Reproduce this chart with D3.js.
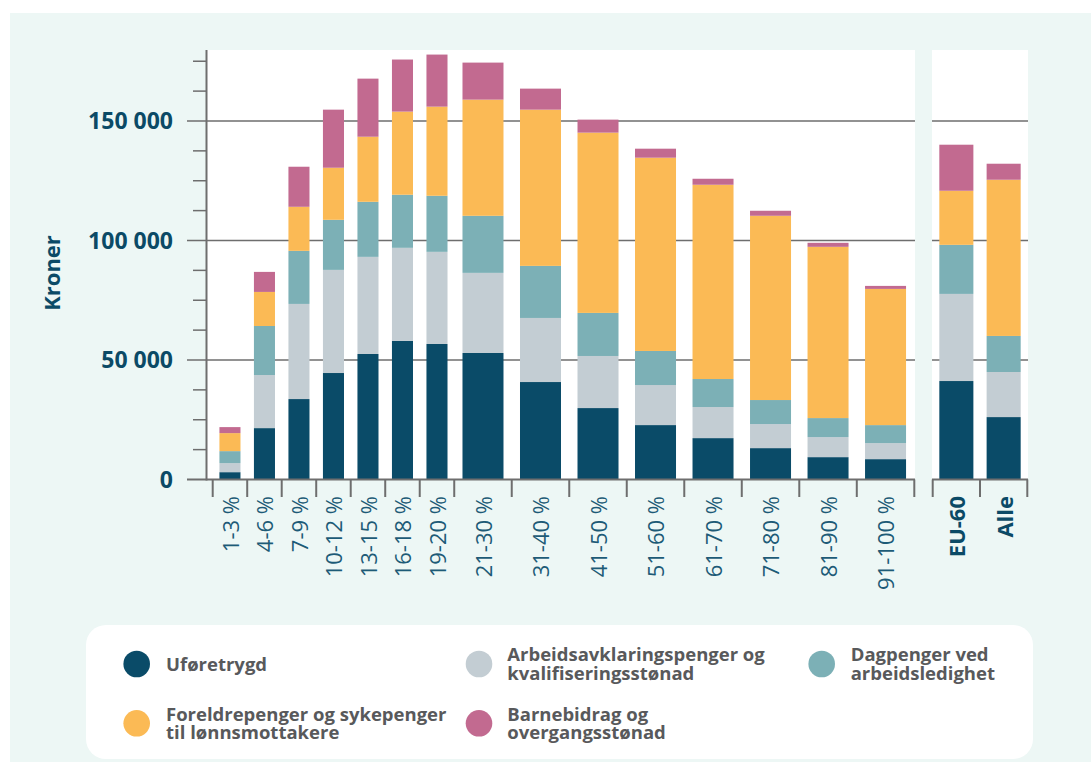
<!DOCTYPE html>
<html>
<head>
<meta charset="utf-8">
<script src="https://cdn.jsdelivr.net/npm/d3@7"></script>
<style>
  html, body { margin: 0; padding: 0; background: #ffffff; }
  svg { display: block; }
  text { font-family: "Open Sans", "Noto Sans", sans-serif; }
</style>
</head>
<body>
<svg id="chart" width="1091" height="762"></svg>
<script>
// ---------- DATA ----------
const categories = ["1-3 %", "4-6 %", "7-9 %", "10-12 %", "13-15 %", "16-18 %", "19-20 %",
  "21-30 %", "31-40 %", "41-50 %", "51-60 %", "61-70 %", "71-80 %", "81-90 %", "91-100 %",
  "EU-60", "Alle"];
const seriesNames = ["Uføretrygd", "Arbeidsavklaringspenger og kvalifiseringsstønad",
  "Dagpenger ved arbeidsledighet", "Foreldrepenger og sykepenger til lønnsmottakere",
  "Barnebidrag og overgangsstønad"];
const legendLabels = [
  ["Uføretrygd"],
  ["Arbeidsavklaringspenger og", "kvalifiseringsstønad"],
  ["Dagpenger ved", "arbeidsledighet"],
  ["Foreldrepenger og sykepenger", "til lønnsmottakere"],
  ["Barnebidrag og", "overgangsstønad"]
];
const uforetrygd   = [3070, 21500, 33660, 44550, 52510, 57960, 56700, 52930, 40780, 29890, 22770, 17320, 13130, 9360, 8520, 41200, 26120];
const arbeidsavkl  = [3770, 22200, 39800, 43150, 40640, 38970, 38550, 33520, 26810, 21790, 16760, 12990, 10060, 8380, 6700, 36450, 18860];
const dagpenger    = [5030, 20530, 22210, 20950, 23040, 22210, 23460, 23880, 21790, 18020, 14250, 11730, 10060, 7960, 7540, 20530, 15080];
const foreldrepeng = [7540, 14250, 18430, 21790, 27230, 34780, 37290, 48600, 65360, 75420, 80860, 81280, 77090, 71650, 56980, 22625, 65360];
const barnebidrag  = [2510, 8380, 16760, 24300, 24300, 21790, 21790, 15500, 8800, 5450, 3770, 2510, 2100, 1680, 1260, 19270, 6700];
const yTickValues = [0, 50000, 100000, 150000];
const yTickLabels = ["0", "50 000", "100 000", "150 000"];
const yTitle = "Kroner";

// ---------- STYLE / LAYOUT ----------
const colors = ["#0a4b68", "#c3cdd3", "#7cb0b6", "#fbba55", "#c26a90"];
const bgColor = "#edf7f5";
const axisColor = "#6e6e6e";
const labelDark = "#0b4a66";
const labelMid = "#1d5b77";
const legendText = "#58595b";

const svg = d3.select("#chart");
svg.append("rect").attr("x", 10).attr("y", 13).attr("width", 1081).attr("height", 749).attr("fill", bgColor);

const plotTop = 50, plotBottom = 479.5;
const mainLeft = 207, mainRight = 915;
const sideLeft = 932, sideRight = 1028;

const y = d3.scaleLinear().domain([0, 179700]).range([plotBottom, plotTop]);

// white plot panels
svg.append("rect").attr("x", mainLeft).attr("y", plotTop).attr("width", mainRight - mainLeft).attr("height", plotBottom - plotTop).attr("fill", "#fff");
svg.append("rect").attr("x", sideLeft).attr("y", plotTop).attr("width", sideRight - sideLeft).attr("height", plotBottom - plotTop).attr("fill", "#fff");

// Stack data
const rows = categories.map((c, i) => ({
  cat: c, i,
  s0: uforetrygd[i], s1: arbeidsavkl[i], s2: dagpenger[i], s3: foreldrepeng[i], s4: barnebidrag[i]
}));
const stack = d3.stack().keys(["s0", "s1", "s2", "s3", "s4"]);
const stacked = stack(rows);

// x positions: main panel with narrow (3 units) and wide (5 units) groups
const nMain = 15, nNarrow = 7;
const units = d3.range(nMain).map(i => i < nNarrow ? 3 : 5);
const unitStart = [];
units.reduce((acc, u, i) => { unitStart[i] = acc; return acc + u; }, 0);
const totalUnits = d3.sum(units);
const xMain = d3.scaleLinear().domain([0, totalUnits]).range([212.7, 914.3]);
const xSide = d3.scaleBand().domain(categories.slice(nMain)).range([932.7, 1027.3]).padding(0);

function band(i) {
  if (i < nMain) {
    const x0 = xMain(unitStart[i]), x1 = xMain(unitStart[i] + units[i]);
    const frac = i < nNarrow ? 0.61 : 0.713;
    const w = (x1 - x0) * frac;
    return { x0, x1, c: (x0 + x1) / 2, w };
  } else {
    const x0 = xSide(categories[i]), x1 = x0 + xSide.bandwidth();
    return { x0, x1, c: (x0 + x1) / 2, w: xSide.bandwidth() * 0.72 };
  }
}

// gridlines & ticks
const minorTicks = d3.range(12500, 179000, 12500).filter(v => v % 50000 !== 0);
svg.append("g").selectAll("line").data(minorTicks).join("line")
  .attr("x1", 193).attr("x2", mainLeft).attr("y1", d => y(d)).attr("y2", d => y(d))
  .attr("stroke", axisColor).attr("stroke-width", 1.5);
const gridG = svg.append("g");
yTickValues.filter(v => v > 0).forEach(v => {
  gridG.append("line").attr("x1", 187).attr("x2", mainRight).attr("y1", y(v)).attr("y2", y(v))
    .attr("stroke", axisColor).attr("stroke-width", 1.5);
  gridG.append("line").attr("x1", sideLeft).attr("x2", sideRight).attr("y1", y(v)).attr("y2", y(v))
    .attr("stroke", axisColor).attr("stroke-width", 1.5);
});

// bars
svg.append("g").selectAll("g").data(stacked).join("g")
  .attr("fill", (d, k) => colors[k])
  .selectAll("rect").data(d => d).join("rect")
  .attr("x", (d, i) => { const b = band(i); return b.c - b.w / 2; })
  .attr("width", (d, i) => band(i).w)
  .attr("y", d => y(d[1]))
  .attr("height", d => y(d[0]) - y(d[1]));

// axes lines
svg.append("line").attr("x1", 206.5).attr("x2", 206.5).attr("y1", plotTop).attr("y2", plotBottom + 1)
  .attr("stroke", axisColor).attr("stroke-width", 2);
svg.append("line").attr("x1", 187).attr("x2", mainRight).attr("y1", plotBottom).attr("y2", plotBottom)
  .attr("stroke", axisColor).attr("stroke-width", 2);
svg.append("line").attr("x1", sideLeft).attr("x2", sideRight).attr("y1", plotBottom).attr("y2", plotBottom)
  .attr("stroke", axisColor).attr("stroke-width", 2);

// category boundary ticks
const boundaries = d3.range(nMain + 1).map(i => xMain(i < nMain ? unitStart[i] : totalUnits));
const sideBounds = [932.7, xSide("Alle"), 1027.3];
svg.append("g").selectAll("line").data(boundaries.concat(sideBounds)).join("line")
  .attr("x1", d => d).attr("x2", d => d).attr("y1", plotBottom).attr("y2", 497)
  .attr("stroke", axisColor).attr("stroke-width", 2);

// y tick labels
svg.append("g").selectAll("text").data(yTickValues).join("text")
  .attr("x", 173).attr("y", d => y(d)).attr("dy", "0.36em")
  .attr("text-anchor", "end").attr("font-size", 23).attr("font-weight", 700)
  .attr("fill", labelDark).text((d, i) => yTickLabels[i]);

// y title
svg.append("text").attr("transform", "translate(60,273) rotate(-90)")
  .attr("text-anchor", "middle").attr("font-size", 22).attr("font-weight", 700)
  .attr("fill", labelDark).text(yTitle);

// x labels
svg.append("g").selectAll("text").data(categories).join("text")
  .attr("transform", (d, i) => `translate(${band(i).c + 1},496) rotate(-90)`)
  .attr("text-anchor", "end").attr("dy", "0.36em")
  .attr("font-size", 22)
  .attr("font-weight", (d, i) => i >= nMain ? 700 : 400)
  .attr("fill", (d, i) => i >= nMain ? labelDark : labelMid)
  .text(d => d);

// legend
svg.append("rect").attr("x", 86).attr("y", 625).attr("width", 947).attr("height", 134)
  .attr("rx", 20).attr("fill", "#fff");
const legendPos = [
  { cx: 136.7, cy: 664, tx: 166 },
  { cx: 479, cy: 664, tx: 507.3 },
  { cx: 821.7, cy: 664, tx: 850.7 },
  { cx: 136.7, cy: 723.3, tx: 166 },
  { cx: 479, cy: 723.3, tx: 507.3 }
];
const lg = svg.append("g");
legendLabels.forEach((lines, k) => {
  const p = legendPos[k];
  lg.append("circle").attr("cx", p.cx).attr("cy", p.cy).attr("r", 13.3).attr("fill", colors[k]);
  const lh = 18.5;
  const t = lg.append("text").attr("font-size", 18.5).attr("font-weight", 700).attr("fill", legendText);
  lines.forEach((ln, j) => {
    t.append("tspan").attr("x", p.tx)
      .attr("y", p.cy - (lines.length - 1) * lh / 2 + j * lh)
      .attr("dy", "0.36em").text(ln);
  });
});
</script>
</body>
</html>
